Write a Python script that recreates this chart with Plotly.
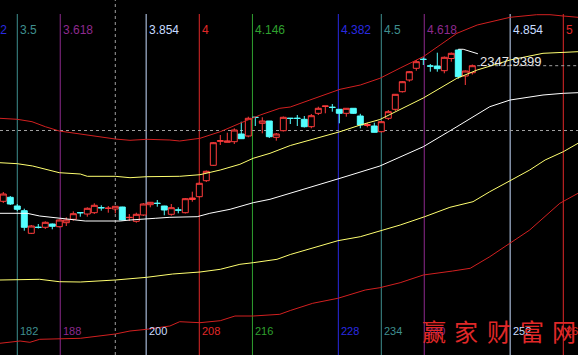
import plotly.graph_objects as go

# ---------------- data ----------------
idx = list(range(180, 248))
opens = [2043.9, 2051.9, 2034.5, 2025.1, 1979.9, 1992.0, 1991.9, 1998.5, 1993.1, 2001.1,
         2007.9, 2021.3, 2018.5, 2021.1, 2031.2, 2029.8, 2028.5, 2032.5, 2011.3, 2003.9,
         2016.5, 2037.1, 2040.0, 2034.5, 2017.9, 2026.6, 2021.1, 2047.5, 2053.1, 2085.1,
         2115.9, 2163.9, 2161.9, 2163.1, 2178.5, 2174.5, 2212.0, 2199.9, 2204.5, 2171.9,
         2185.1, 2210.0, 2210.0, 2207.9, 2193.1, 2219.9, 2233.5, 2232.0, 2227.9, 2219.9,
         2229.9, 2214.5, 2195.5, 2194.5, 2183.1, 2209.9, 2227.9, 2263.1, 2286.5, 2309.9,
         2328.0, 2314.6, 2314.5, 2305.1, 2329.5, 2346.5, 2294.5, 2301.1]
highs = [2062.5, 2054.5, 2038.5, 2029.1, 1996.5, 1998.5, 2003.9, 1999.5, 2007.5, 2011.9,
         2023.9, 2021.3, 2031.9, 2039.9, 2035.9, 2034.5, 2034.5, 2033.0, 2018.5, 2021.1,
         2040.5, 2042.5, 2046.5, 2035.0, 2038.5, 2031.9, 2050.5, 2063.1, 2081.5, 2105.5,
         2162.5, 2176.5, 2181.1, 2189.9, 2203.1, 2213.1, 2212.0, 2211.9, 2204.5, 2180.5,
         2213.5, 2210.0, 2216.5, 2214.5, 2218.5, 2233.1, 2234.5, 2238.5, 2228.0, 2230.5,
         2230.0, 2218.9, 2201.1, 2201.1, 2204.5, 2226.5, 2258.5, 2284.5, 2304.5, 2326.5,
         2331.9, 2318.5, 2341.1, 2333.5, 2341.5, 2347.9399, 2305.5, 2317.5]
lows = [2040.5, 2036.5, 2024.5, 1985.1, 1978.5, 1989.5, 1988.5, 1987.9, 1991.5, 1994.5,
        2005.1, 2013.1, 2013.1, 2018.5, 2025.1, 2021.1, 2019.9, 2006.0, 2004.5, 2001.1,
        2014.5, 2031.9, 2033.1, 2015.9, 2015.1, 2019.9, 2019.5, 2043.1, 2051.5, 2082.5,
        2114.5, 2156.5, 2161.9, 2158.5, 2168.5, 2171.9, 2194.5, 2179.9, 2170.5, 2165.1,
        2183.5, 2198.5, 2194.5, 2191.5, 2189.9, 2216.5, 2219.9, 2223.1, 2199.9, 2213.1,
        2218.5, 2189.9, 2191.9, 2181.5, 2181.5, 2206.5, 2224.5, 2261.5, 2283.1, 2305.1,
        2316.5, 2303.1, 2303.1, 2299.9, 2323.1, 2289.1, 2276.5, 2297.5]
closes = [2058.5, 2038.5, 2027.9, 1991.9, 1994.5, 1991.7, 2001.9, 1993.9, 2006.5, 2006.5,
          2019.1, 2021.0, 2029.9, 2035.9, 2030.9, 2030.1, 2033.9, 2006.5, 2011.7, 2017.9,
          2038.5, 2041.9, 2039.7, 2026.5, 2031.1, 2026.3, 2049.1, 2050.5, 2079.9, 2103.9,
          2161.1, 2165.1, 2164.5, 2186.5, 2169.1, 2209.9, 2211.7, 2204.5, 2173.1, 2178.5,
          2211.9, 2209.7, 2209.7, 2193.1, 2215.1, 2229.9, 2234.5, 2231.7, 2219.9, 2229.9,
          2219.9, 2196.5, 2197.5, 2181.9, 2203.1, 2223.1, 2257.9, 2283.1, 2303.1, 2323.1,
          2327.7, 2314.3, 2309.1, 2331.9, 2339.9, 2293.1, 2304.5, 2315.1]

upper_red_x = [179.5, 182, 184.1, 186, 188, 191, 193.8, 196, 198.1, 200.5, 203.8, 205.2, 208.1,
               211, 213.8, 216.7, 219.5, 221, 223.8, 228.1, 231, 233.8, 236.7, 240, 242.4,
               244.8, 247.7, 252.4, 256.2, 258.1, 260, 262.1]
upper_red_y = [2209.9, 2207.9, 2203.1, 2193.1, 2184.5, 2178.5, 2171.9, 2168.5, 2165.9, 2167.9,
               2166.5, 2164.5, 2169.9, 2183.1, 2199.9, 2216.5, 2229.9, 2232.5, 2246.5, 2267.9,
               2276.5, 2289.9, 2310.5, 2333.1, 2356.5, 2379.9, 2396.5, 2411.9, 2417.1, 2417.1,
               2414.5, 2411.9]
upper_yel_x = [179.5, 182, 184.2, 188, 191, 192, 196, 198.1, 200.5, 205.2, 208.1, 211, 213.8,
               215.7, 218.1, 221, 228.1, 231, 233.8, 240, 244.8, 247.7, 252.4, 257.1, 262.1]
upper_yel_y = [2121.1, 2119.1, 2114.5, 2101.1, 2098.5, 2093.9, 2093.9, 2091.1, 2093.1, 2093.9,
               2097.1, 2106.5, 2117.9, 2129.9, 2139.9, 2155.5, 2183.1, 2196.5, 2207.5, 2250.5,
               2289.9, 2306.5, 2326.5, 2339.9, 2343.1]
mid_white_x = [179.5, 183.4, 185.2, 188, 191.7, 196.7, 198.1, 201.7, 203.8, 207.7, 209.5, 212.4,
               215.7, 218.1, 221, 228.1, 233.8, 240, 244.8, 249.5, 252.4, 257.1, 260, 262.1]
mid_white_y = [2019.9, 2019.9, 2014.5, 2009.9, 2004.5, 2004.5, 2006.5, 2009.9, 2011.9, 2013.1,
               2019.9, 2027.9, 2041.1, 2047.9, 2059.9, 2089.9, 2114.5, 2153.1, 2193.1, 2233.1,
               2246.5, 2256.5, 2259.9, 2261.1]
lower_yel_x = [179.5, 185.2, 188, 191, 196, 200.5, 204.2, 208.1, 211, 213.8, 215.7, 219.1, 221,
               224.2, 227.8, 231, 233.8, 236.7, 240.2, 243.8, 247.1, 249.5, 252.4, 255.2, 257.4,
               260, 262.1]
lower_yel_y = [1886.5, 1887.9, 1883.1, 1882.5, 1886.5, 1891.9, 1898.5, 1902.5, 1907.9, 1917.9,
               1921.1, 1927.9, 1937.5, 1949.9, 1965.1, 1973.1, 1985.1, 1996.5, 2013.1, 2031.9,
               2043.1, 2063.1, 2085.1, 2106.5, 2126.5, 2143.1, 2159.9]
lower_red_x = [179.5, 182.4, 183.8, 185.2, 191, 193.8, 196, 198.1, 200.5, 203.8, 205.2, 208.1,
               211, 213.1, 215.7, 219.5, 221, 224.2, 227.8, 231.7, 233.8, 236.7, 240, 244.2,
               246.7, 249.5, 252.4, 255.2, 259.5, 262.1]
lower_red_y = [1759.9, 1764.5, 1761.9, 1767.9, 1769.9, 1774.5, 1778.5, 1784.5, 1787.9, 1794.5,
               1803.1, 1801.1, 1805.1, 1814.5, 1814.5, 1817.9, 1825.5, 1839.9, 1849.9, 1866.5,
               1871.1, 1881.1, 1896.5, 1904.5, 1909.9, 1933.1, 1959.9, 1986.5, 2039.9, 2059.9]

fib_base = 52
fib_ratios = [3.382, 3.5, 3.618, 3.854, 4, 4.146, 4.382, 4.5, 4.618, 4.854, 5]
cursor_x = 196
cursor_y = 2185.5
watermark = "赢家财富网"

# ---------------- style ----------------
X0, X1 = 179.53, 262.1
Y0, Y1 = 1736.5, 2446.5
UP = "#ff3c3c"
DOWN = "#54ffff"
BAND_RED = "#d22020"
YEL = "#ffff70"
fib_colors = ["#2a2ae0", "#3f8f8f", "#8e2a8e", "#c8dcff", "#e02828", "#2fa02f",
              "#2a2ae0", "#3f8f8f", "#8e2a8e", "#c8dcff", "#e02828"]

fig = go.Figure()

shapes = []
annotations = []
for r, col in zip(fib_ratios, fib_colors):
    xv = fib_base * r
    shapes.append(dict(type="line", xref="x", yref="paper", x0=xv, x1=xv, y0=0, y1=1 - 14 / 355,
                       line=dict(color=col, width=1), layer="below"))
    px = (xv - X0) / (X1 - X0)
    annotations.append(dict(xref="paper", yref="paper", x=px, y=1 - 30 / 355, xanchor="left",
                            yanchor="middle", xshift=1, showarrow=False, text=f"{r:g}",
                            font=dict(family="Liberation Sans", size=12, color=col)))
    if xv >= X0:
        annotations.append(dict(xref="paper", yref="paper", x=px, y=1 - 331 / 355,
                                xanchor="left", yanchor="middle", xshift=1, showarrow=False,
                                text=str(round(xv)),
                                font=dict(family="Liberation Sans", size=11, color=col)))

# cursor crosshair
shapes.append(dict(type="line", xref="x", yref="paper", x0=cursor_x, x1=cursor_x, y0=0, y1=1,
                   line=dict(color="#a0a0a0", width=1, dash="3px,3px"), layer="below"))
shapes.append(dict(type="line", xref="paper", yref="y", x0=0, x1=1, y0=cursor_y, y1=cursor_y,
                   line=dict(color="#a0a0a0", width=1, dash="3px,3px"), layer="below"))
# last close line
last_i = idx[-1]
shapes.append(dict(type="line", xref="x", yref="y", x0=last_i + 0.7, x1=X1 + 1,
                   y0=closes[-1], y1=closes[-1],
                   line=dict(color="#a0a0a0", width=1, dash="3px,3px"), layer="below"))

for xs, ys, col in [(upper_red_x, upper_red_y, BAND_RED), (upper_yel_x, upper_yel_y, YEL),
                    (mid_white_x, mid_white_y, "#ffffff"), (lower_yel_x, lower_yel_y, YEL),
                    (lower_red_x, lower_red_y, BAND_RED)]:
    fig.add_trace(go.Scatter(x=xs, y=ys, mode="lines", line=dict(color=col, width=1),
                             hoverinfo="skip"))

fig.add_trace(go.Candlestick(
    x=idx, open=opens, high=highs, low=lows, close=closes,
    increasing=dict(line=dict(color=UP, width=1), fillcolor="#000000"),
    decreasing=dict(line=dict(color=DOWN, width=1), fillcolor=DOWN),
    whiskerwidth=0,
))

# max-high pointer
hi = max(highs)
hi_i = idx[highs.index(hi)]
fig.add_trace(go.Scatter(x=[hi_i, hi_i + 0.7, hi_i + 2.8], y=[hi, hi, hi - 9], mode="lines",
                         line=dict(color="#ffffff", width=1), hoverinfo="skip"))
annotations.append(dict(xref="x", yref="y", x=hi_i + 2.8, y=hi, yshift=-12, xanchor="left",
                        yanchor="middle", showarrow=False, text=f"{hi:.4f}",
                        font=dict(family="Liberation Sans", size=13, color="#e8e8e8")))

# watermark
for k, ch in enumerate(watermark):
    annotations.append(dict(xref="paper", yref="paper", x=(433.7 + 32.6 * k) / 578,
                            y=1 - 330 / 355, xanchor="center", yanchor="middle",
                            showarrow=False, text=ch,
                            font=dict(family="Noto Sans CJK SC", size=24, color="#e02828")))

fig.update_layout(
    width=578, height=355, margin=dict(l=0, r=0, t=0, b=0),
    paper_bgcolor="#000000", plot_bgcolor="#000000", showlegend=False,
    boxgap=0.15, boxgroupgap=0,
    xaxis=dict(range=[X0, X1], visible=False, rangeslider=dict(visible=False), fixedrange=True),
    yaxis=dict(range=[Y0, Y1], visible=False, fixedrange=True),
    shapes=shapes, annotations=annotations,
)

fig.write_html("out.html")
